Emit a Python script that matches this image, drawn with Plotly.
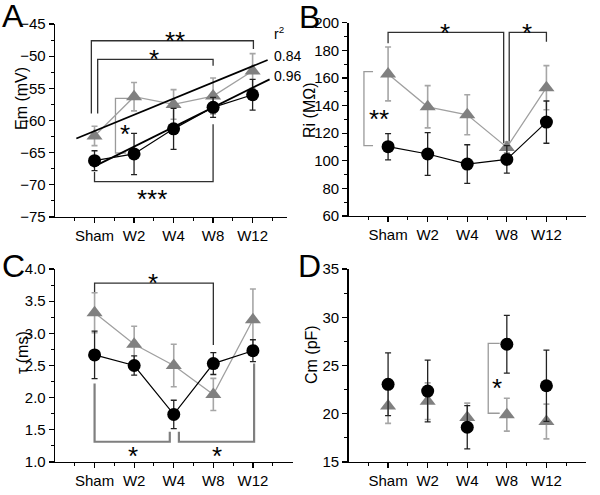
import plotly.graph_objects as go

# ---------------- data ----------------
categories = ["Sham", "W2", "W4", "W8", "W12"]
xpos = [1, 2, 3, 4, 5]

# Panel A : Em (mV)
em_black = [-66.25, -65.2, -61.3, -57.95, -56.0]
em_black_err = [1.55, 3.2, 3.2, 1.55, 2.4]
em_gray = [-62.4, -56.3, -57.5, -56.2, -52.3]
em_gray_err = [1.5, 2.2, 2.3, 2.8, 2.7]
# linear fits (slope, intercept, x-extent) and r^2 labels
fit_gray = dict(slope=2.52, intercept=-64.16, x0=0.54, x1=5.38, r2="0.84")
fit_black = dict(slope=3.05, intercept=-70.16, x0=0.97, x1=5.43, r2="0.96")

# Panel B : Ri (MOhm)
ri_black = [110.2, 104.9, 97.6, 101.0, 128.0]
ri_black_err = [9.5, 15.5, 14.0, 10.0, 15.3]
ri_gray = [162.9, 139.1, 133.3, 109.7, 152.9]
ri_gray_err = [19.5, 15.3, 14.5, 4.0, 16.0]

# Panel C : tau (ms)
tau_black = [2.665, 2.50, 1.74, 2.53, 2.73]
tau_black_err = [0.37, 0.15, 0.22, 0.17, 0.17]
tau_gray = [3.32, 2.83, 2.50, 2.05, 3.21]
tau_gray_err = [0.31, 0.28, 0.33, 0.25, 0.48]

# Panel D : Cm (pF)
cm_black = [23.05, 22.35, 18.6, 27.2, 22.9]
cm_black_err = [3.25, 3.2, 2.25, 3.0, 3.7]
cm_gray = [20.8, 21.3, 19.6, 19.9, 19.2]
cm_gray_err = [1.8, 1.9, 1.5, 1.7, 1.8]

# significance brackets: (panel, xs, ys, colour-key)
brackets = [
    ("A", [0.92, 0.92, 5.02, 5.02], [-58.9, -47.6, -47.6, -48.9], "k"),
    ("A", [1.08, 1.08, 4.0, 4.0], [-58.9, -50.5, -50.5, -51.5], "k"),
    ("A", [1.85, 1.53, 1.53, 1.80], [-56.55, -56.55, -65.05, -65.05], "g"),
    ("A", [1.0, 1.0, 4.0, 4.0], [-68.0, -69.5, -69.5, -60.6], "k"),
    ("B", [1.0, 1.0, 3.92, 3.92], [185.1, 193.0, 193.0, 112.6], "k"),
    ("B", [4.06, 4.06, 5.0, 5.0], [112.6, 193.0, 193.0, 186.2], "k"),
    ("B", [0.62, 0.39, 0.39, 0.62], [164.5, 164.5, 110.9, 110.9], "g"),
    ("C", [1.0, 1.0, 4.0, 4.0], [3.62, 3.78, 3.78, 2.82], "k"),
    ("C", [1.0, 1.0, 2.9, 2.9], [2.22, 1.315, 1.315, 1.47], "G"),
    ("C", [3.13, 3.13, 5.03, 5.03], [1.47, 1.315, 1.315, 2.53], "G"),
    ("D", [3.82, 3.53, 3.53, 3.82], [27.3, 27.3, 20.05, 20.05], "g"),
]
# star labels: (panel, x, y, text)
stars = [
    ("A", 3.03, -46.7, "**"),
    ("A", 2.5, -49.5, "*"),
    ("A", 1.76, -61.2, "*"),
    ("A", 2.45, -71.3, "***"),
    ("B", 2.43, 196.9, "*"),
    ("B", 4.5, 196.9, "*"),
    ("B", 0.76, 134.6, "**"),
    ("C", 2.47, 3.87, "*"),
    ("C", 1.96, 1.19, "*"),
    ("C", 4.1, 1.19, "*"),
    ("D", 3.74, 23.3, "*"),
]

# ---------------- styling ----------------
FONT = "Liberation Sans, Arial, sans-serif"
BLACK = "#000000"
GRAY_MK = "#808080"
GRAY_ERR = "#a6a6a6"
GRAY_LN = "#a0a0a0"
BR_COL = {"k": "#303030", "g": "#9a9a9a", "G": "#7f7f7f"}
BR_W = {"k": 1.3, "g": 1.3, "G": 2.2}

FW, FH = 600, 495


def px_x(px):
    return px / FW


def px_y(py):
    return 1 - py / FH


axes = {
    "A": ("x", "y"),
    "B": ("x2", "y2"),
    "C": ("x3", "y3"),
    "D": ("x4", "y4"),
}

fig = go.Figure()

# brackets first (underneath markers)
for p, xs, ys, c in brackets:
    xa, ya = axes[p]
    fig.add_trace(go.Scatter(x=xs, y=ys, mode="lines", xaxis=xa, yaxis=ya,
                             line=dict(color=BR_COL[c], width=BR_W[c]),
                             hoverinfo="skip", showlegend=False))

panels = [
    ("A", em_black, em_black_err, em_gray, em_gray_err, True),
    ("B", ri_black, ri_black_err, ri_gray, ri_gray_err, True),
    ("C", tau_black, tau_black_err, tau_gray, tau_gray_err, True),
    ("D", cm_black, cm_black_err, cm_gray, cm_gray_err, False),
]

for p, yb, eb, yg, eg, connect in panels:
    xa, ya = axes[p]
    fig.add_trace(go.Scatter(
        x=xpos, y=yg, xaxis=xa, yaxis=ya,
        mode="lines+markers" if connect else "markers",
        line=dict(color=GRAY_LN, width=1.3),
        marker=dict(symbol="triangle-up", size=14, color=GRAY_MK),
        error_y=dict(type="data", array=eg, color=GRAY_ERR, thickness=1.6, width=3),
        hoverinfo="skip", showlegend=False))
    fig.add_trace(go.Scatter(
        x=xpos, y=yb, xaxis=xa, yaxis=ya,
        mode="lines+markers" if connect else "markers",
        line=dict(color=BLACK, width=1.2),
        marker=dict(symbol="circle", size=13, color=BLACK),
        error_y=dict(type="data", array=eb, color="#222222", thickness=1.3, width=3),
        hoverinfo="skip", showlegend=False))

# fit lines in A
for f in (fit_gray, fit_black):
    xs = [f["x0"], f["x1"]]
    ys = [f["slope"] * v + f["intercept"] for v in xs]
    fig.add_trace(go.Scatter(x=xs, y=ys, mode="lines", xaxis="x", yaxis="y",
                             line=dict(color=BLACK, width=1.8),
                             hoverinfo="skip", showlegend=False))

annotations = []
for p, x, y, t in stars:
    xa, ya = axes[p]
    annotations.append(dict(x=x, y=y, xref=xa, yref=ya, text=t, showarrow=False,
                            font=dict(family=FONT, size=26, color=BLACK),
                            xanchor="center", yanchor="middle", yshift=-6))

# r^2 labels
annotations.append(dict(x=5.49, y=-46.4, xref="x", yref="y", text="r<sup>2</sup>",
                        showarrow=False, xanchor="left", yanchor="middle",
                        font=dict(family=FONT, size=14, color=BLACK)))
for f in (fit_gray, fit_black):
    yv = f["slope"] * f["x1"] + f["intercept"]
    annotations.append(dict(x=5.49, y=yv + 0.55, xref="x", yref="y", text=f["r2"],
                            showarrow=False, xanchor="left", yanchor="middle",
                            font=dict(family=FONT, size=14, color=BLACK)))

# panel letters
for letter, px, py in [("A", 13, 16), ("B", 309, 17), ("C", 13, 266), ("D", 309, 266)]:
    annotations.append(dict(x=px_x(px), y=px_y(py), xref="paper", yref="paper",
                            text=letter, showarrow=False, xanchor="center", yanchor="middle",
                            font=dict(family=FONT, size=32, color=BLACK)))

# axis titles
for title, px, py in [("Em (mV)", 22, 99), ("Ri (MΩ)", 309, 110),
                      ("τ (ms)", 22, 353), ("Cm (pF)", 311, 355)]:
    annotations.append(dict(x=px_x(px), y=px_y(py), xref="paper", yref="paper",
                            text=title, showarrow=False, textangle=-90,
                            xanchor="center", yanchor="middle",
                            font=dict(family=FONT, size=16, color=BLACK)))

tickfont = dict(family=FONT, size=15, color=BLACK)


def xaxis_cfg(px0, px1, rng, anchor):
    return dict(domain=[px_x(px0), px_x(px1)], range=rng, anchor=anchor,
                showgrid=False, zeroline=False, automargin=False,
                showline=True, linecolor=BLACK, linewidth=1.3,
                tickmode="array", tickvals=xpos, ticktext=categories,
                ticks="outside", ticklen=5, tickwidth=1.2, tickcolor=BLACK,
                tickfont=tickfont,
                minor=dict(tickmode="array", tickvals=[0.5, 1.5, 2.5, 3.5, 4.5, 5.5],
                           ticks="outside", ticklen=3, tickwidth=1, tickcolor=BLACK))


def yaxis_cfg(py_bottom, py_top, rng, dtick, anchor):
    return dict(domain=[px_y(py_bottom), px_y(py_top)], range=rng, anchor=anchor,
                showgrid=False, zeroline=False, automargin=False,
                showline=True, linecolor=BLACK, linewidth=1.3,
                tickmode="linear", tick0=rng[0], dtick=dtick,
                ticks="outside", ticklen=5, tickwidth=1.2, tickcolor=BLACK,
                tickfont=tickfont,
                minor=dict(tick0=rng[0], dtick=dtick / 2, ticks="outside",
                           ticklen=3, tickwidth=1, tickcolor=BLACK))


fig.update_layout(
    width=FW, height=FH,
    margin=dict(l=0, r=0, t=0, b=0, autoexpand=False),
    paper_bgcolor="white", plot_bgcolor="white",
    showlegend=False,
    xaxis=xaxis_cfg(55, 287, [0, 5.87], "y"),
    yaxis=yaxis_cfg(217, 24, [-75, -45], 5, "x"),
    xaxis2=xaxis_cfg(348.5, 586, [0, 6], "y2"),
    yaxis2=yaxis_cfg(216, 22.7, [60, 200], 20, "x2"),
    xaxis3=xaxis_cfg(55, 292.5, [0, 6], "y3"),
    yaxis3=yaxis_cfg(462, 269, [1.0, 4.0], 0.5, "x3"),
    xaxis4=xaxis_cfg(348.5, 586, [0, 6], "y4"),
    yaxis4=yaxis_cfg(462, 269, [15, 35], 5, "x4"),
    annotations=annotations,
)
fig.update_yaxes(tickformat=".1f", selector=dict(anchor="x3"))

fig.write_html("out.html",
               config={"displayModeBar": False, "staticPlot": True},
               post_script="document.body.style.margin='0';document.body.style.overflow='hidden';")
